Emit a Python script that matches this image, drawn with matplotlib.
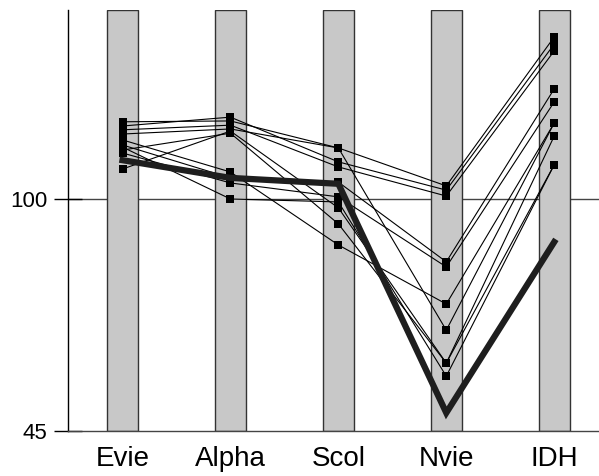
import numpy as np
import matplotlib
matplotlib.use("Agg")
import matplotlib.pyplot as plt

plt.rcParams['font.family'] = ['Liberation Sans', 'DejaVu Sans']

categories = ['Evie', 'Alpha', 'Scol', 'Nvie', 'IDH']

# one row per individual profile (Evie, Alpha, Scol, Nvie, IDH)
profiles = [
    [118.3, 118.5, 112.1, 103.1, 138.4],
    [117.3, 119.4, 108.8, 102.1, 136.7],
    [116.4, 117.5, 107.6, 100.7, 135.1],
    [115.4, 116.6, 112.1, 68.9, 118.0],
    [111.6, 115.6, 94.1, 61.1, 114.9],
    [107.1, 116.1, 97.9, 61.1, 108.1],
    [114.0, 106.4, 89.1, 75.1, 118.0],
    [112.8, 105.0, 104.0, 85.1, 126.1],
    [110.9, 103.8, 100.5, 83.9, 123.0],
    [112.3, 100.0, 99.3, 58.0, 108.1],
]

# thick summary profile
summary = [109.2, 105.0, 103.6, 49.3, 89.8]

y_ticks = [45, 100]


def draw_chart():
    fig = plt.figure(figsize=(5.99, 4.76), dpi=100)
    ax = fig.add_axes([68 / 599, 1 - 431 / 476, 1 - 68 / 599, (431 - 10) / 476])

    x = np.arange(len(categories))
    ax.set_xlim(-0.505, 4.415)
    ax.set_ylim(45, 144.8)

    # reference line at 100, under the bars
    ax.axhline(100, color='#444444', lw=1, zorder=0)

    ax.bar(x, 144.8 - 45, bottom=45, width=0.29, color='#c8c8c8',
           edgecolor='#333333', linewidth=1, zorder=1)

    for p in profiles:
        ax.plot(x, p, color='black', lw=0.8, marker='s', markersize=6,
                markeredgewidth=0, zorder=3)

    ax.plot(x, summary, color='#1e1e1e', lw=4.5, solid_joinstyle='miter', zorder=4)

    ax.set_xticks(x)
    ax.set_xticklabels(categories, fontsize=20)
    ax.tick_params(axis='x', length=0, pad=11)
    ax.set_yticks(y_ticks)
    ax.set_yticklabels([str(t) for t in y_ticks], fontsize=16)
    ax.tick_params(axis='y', direction='inout', length=20, width=1, pad=5)

    for side in ['top', 'right']:
        ax.spines[side].set_visible(False)
    ax.spines['left'].set_linewidth(1)
    ax.spines['bottom'].set_linewidth(1)
    ax.spines['bottom'].set_color('#444444')

    fig.savefig('out.png', dpi=100)


if __name__ == '__main__':
    draw_chart()
